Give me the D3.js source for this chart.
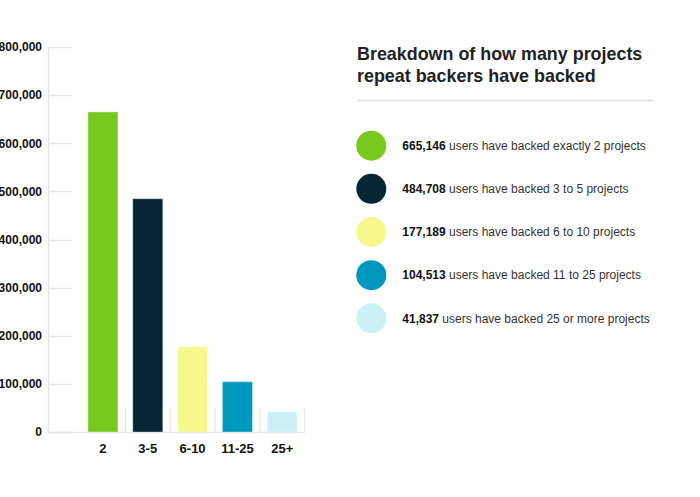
<!DOCTYPE html>
<html>
<head>
<meta charset="utf-8">
<script src="https://cdn.jsdelivr.net/npm/d3@7"></script>
<style>
  body { margin: 0; background: #fff; }
  svg { display: block; font-family: "Liberation Sans", Arial, Helvetica, sans-serif; }
</style>
</head>
<body>
<svg id="chart" width="700" height="497"></svg>
<script>
// data
const categories = ['2', '3-5', '6-10', '11-25', '25+'];
const users = [665146, 484708, 177189, 104513, 41837];
const colors = ['#77c920', '#072532', '#f5f88a', '#0097bd', '#c9f1f6'];
const legendTexts = [
	'users have backed exactly 2 projects',
	'users have backed 3 to 5 projects',
	'users have backed 6 to 10 projects',
	'users have backed 11 to 25 projects',
	'users have backed 25 or more projects'
];
const yTicks = [0, 100000, 200000, 300000, 400000, 500000, 600000, 700000, 800000];
const title = ['Breakdown of how many projects', 'repeat backers have backed'];

const svg = d3.select('#chart');
const gridColor = '#e6e6e6';
const axisX = 48.5;

const y = d3.scaleLinear().domain([0, 800000]).range([432, 47]);
const x = d3.scaleBand().domain(categories).range([80.5, 304.7]).paddingInner(0.33).paddingOuter(0.165);

// y gridlines + labels
const yg = svg.append('g');
yg.selectAll('line')
	.data(yTicks)
	.join('line')
	.attr('x1', axisX)
	.attr('x2', 72)
	.attr('y1', d => Math.round(y(d)) + 0.5)
	.attr('y2', d => Math.round(y(d)) + 0.5)
	.attr('stroke', gridColor)
	.attr('stroke-width', 1.5);

yg.selectAll('text')
	.data(yTicks)
	.join('text')
	.attr('x', 42)
	.attr('y', d => y(d))
	.attr('dy', '0.36em')
	.attr('text-anchor', 'end')
	.attr('font-size', 12)
	.attr('font-weight', 'bold')
	.attr('fill', '#111')
	.text(d => d3.format(',')(d));

// vertical axis line
svg.append('line')
	.attr('x1', axisX).attr('x2', axisX)
	.attr('y1', y(800000)).attr('y2', y(0))
	.attr('stroke', gridColor)
	.attr('stroke-width', 1.5);

// bottom axis line
svg.append('line')
	.attr('x1', axisX).attr('x2', 305)
	.attr('y1', y(0) + 0.5).attr('y2', y(0) + 0.5)
	.attr('stroke', gridColor)
	.attr('stroke-width', 1.5);

// small separators at the right edge of each band
const step = x.step();
svg.append('g')
	.selectAll('line')
	.data(categories)
	.join('line')
	.attr('x1', d => x(d) + x.bandwidth() + (step - x.bandwidth()) / 2)
	.attr('x2', d => x(d) + x.bandwidth() + (step - x.bandwidth()) / 2)
	.attr('y1', y(0) - 24)
	.attr('y2', y(0))
	.attr('stroke', gridColor)
	.attr('stroke-width', 1.2);

// bars
svg.append('g')
	.selectAll('rect')
	.data(users)
	.join('rect')
	.attr('x', (d, i) => x(categories[i]))
	.attr('y', d => y(d))
	.attr('width', x.bandwidth())
	.attr('height', d => y(0) - y(d))
	.attr('fill', (d, i) => colors[i])
	.attr('stroke', '#fff')
	.attr('stroke-opacity', 0.35)
	.attr('stroke-width', 1);

// category labels
svg.append('g')
	.selectAll('text')
	.data(categories)
	.join('text')
	.attr('x', d => x(d) + x.bandwidth() / 2)
	.attr('y', 452.5)
	.attr('text-anchor', 'middle')
	.attr('font-size', 13)
	.attr('font-weight', 'bold')
	.attr('fill', '#111')
	.text(d => d);

// title
svg.append('g')
	.selectAll('text')
	.data(title)
	.join('text')
	.attr('x', 357)
	.attr('y', (d, i) => 60 + i * 21.5)
	.attr('font-size', 17.9)
	.attr('font-weight', 'bold')
	.attr('fill', '#222')
	.text(d => d);

svg.append('line')
	.attr('x1', 357).attr('x2', 654)
	.attr('y1', 100.5).attr('y2', 100.5)
	.attr('stroke', '#e0e0e0')
	.attr('stroke-width', 1.5);

// legend
const legendY = d3.scalePoint().domain(categories).range([145.7, 318.3]);
const item = svg.append('g')
	.selectAll('g')
	.data(categories)
	.join('g')
	.attr('transform', d => `translate(0,${legendY(d)})`);

item.append('circle')
	.attr('cx', 371.3)
	.attr('cy', 0)
	.attr('r', 15)
	.attr('fill', (d, i) => colors[i]);

const label = item.append('text')
	.attr('x', 402.3)
	.attr('y', 0)
	.attr('dy', '0.36em')
	.attr('font-size', 12)
	.attr('fill', '#333');

label.append('tspan')
	.attr('font-weight', 'bold')
	.attr('fill', '#111')
	.text((d, i) => d3.format(',')(users[i]));

label.append('tspan')
	.text((d, i) => ' ' + legendTexts[i]);
</script>
</body>
</html>
